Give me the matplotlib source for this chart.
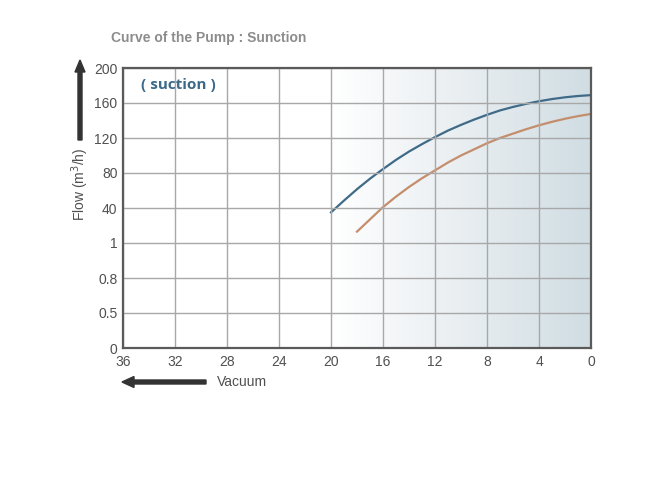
import numpy as np
import matplotlib
matplotlib.use("Agg")
import matplotlib.pyplot as plt
from matplotlib.colors import LinearSegmentedColormap
from matplotlib.patches import FancyArrow

# x: vacuum, y: flow (m3/h)
vac_ticks = [36, 32, 28, 24, 20, 16, 12, 8, 4, 0]
flow_labels = ["0", "0.5", "0.8", "1", "40", "80", "120", "160", "200"]

blue_vac = [20, 19, 18, 17, 16, 15, 14, 13, 12, 11, 10, 9, 8, 7, 6, 5, 4, 3, 2, 1, 0]
blue_flow = [35, 48.5, 61.5, 73.5, 84.5, 95, 104.5, 113, 121, 128.5, 135,
             141, 146.5, 151.5, 155.5, 159, 162, 164.5, 166.5, 168, 169]

orange_vac = [18, 17, 16, 15, 14, 13, 12, 11, 10, 9, 8, 7, 6, 5, 4, 3, 2, 1, 0]
orange_flow = [13, 27, 41, 53, 64, 74, 83, 92, 100, 107, 114, 120, 125,
               130, 134.5, 138.5, 142, 145, 147.5]

plt.rcParams['font.family'] = ['Liberation Sans', 'DejaVu Sans']


def flow_pos(f):
    # upper part of the axis is linear: "1" sits at index 3, then 40 per step
    return 3 + np.asarray(f) / 40.0


fig = plt.figure(figsize=(6.67, 5.0), dpi=100)
ax = fig.add_axes([123 / 667, 1 - 348 / 500, (591 - 123) / 667, (348 - 68) / 500])

# background gradient from vacuum 20 to 0
cmap = LinearSegmentedColormap.from_list("bg", ["#ffffff", "#e9eef1", "#d0dde3"])
grad = np.linspace(0, 1, 256).reshape(1, -1)
ax.imshow(grad, extent=[20, 0, 0, 8], cmap=cmap, aspect="auto", zorder=0)

ax.set_xlim(36, 0)
ax.set_ylim(0, 8)
ax.set_xticks(vac_ticks)
ax.set_xticklabels([str(v) for v in vac_ticks])
ax.set_yticks(range(len(flow_labels)))
ax.set_yticklabels(flow_labels)
ax.tick_params(length=0, labelsize=10, labelcolor="#505050", pad=4)
ax.tick_params(axis="x", pad=5)
ax.grid(True, color="#a8a8a8", linewidth=1.0, zorder=1)
ax.set_axisbelow(False)
for s in ax.spines.values():
    s.set_color("#5a5a5a")
    s.set_linewidth(1.6)
    s.set_zorder(3)

ax.plot(blue_vac, flow_pos(blue_flow), color="#3f6b88", linewidth=1.6, zorder=2)
ax.plot(orange_vac, flow_pos(orange_flow), color="#c48e6c", linewidth=1.6, zorder=2)

ax.text(34.6, 7.5, "( suction )", color="#3d6a88", fontsize=11, fontweight="bold",
        ha="left", va="center", zorder=4, family=["Open Sans", "DejaVu Sans"])

fig.text(111 / 667, 1 - 38 / 500, "Curve of the Pump : Sunction", color="#8c8c8c",
         fontsize=10, fontweight="bold", ha="left", va="center")

fig.text(80 / 667, 1 - 184 / 500, "Flow (m$^3$/h)", rotation=90, color="#505050",
         fontsize=10, ha="center", va="center")
fig.text(217 / 667, 1 - 382 / 500, "Vacuum", color="#505050", fontsize=10,
         ha="left", va="center")

# arrows
fig.patches.append(FancyArrow(
    80 / 667, 1 - 140 / 500, 0, (140 - 60) / 500, width=4 / 667,
    head_width=10 / 667, head_length=12 / 500, length_includes_head=True,
    color="#333333", transform=fig.transFigure, figure=fig))
fig.patches.append(FancyArrow(
    206 / 667, 1 - 382 / 500, -(206 - 122) / 667, 0, width=4 / 500,
    head_width=11 / 500, head_length=12 / 667, length_includes_head=True,
    color="#333333", transform=fig.transFigure, figure=fig))

fig.savefig("out.png", dpi=100)
